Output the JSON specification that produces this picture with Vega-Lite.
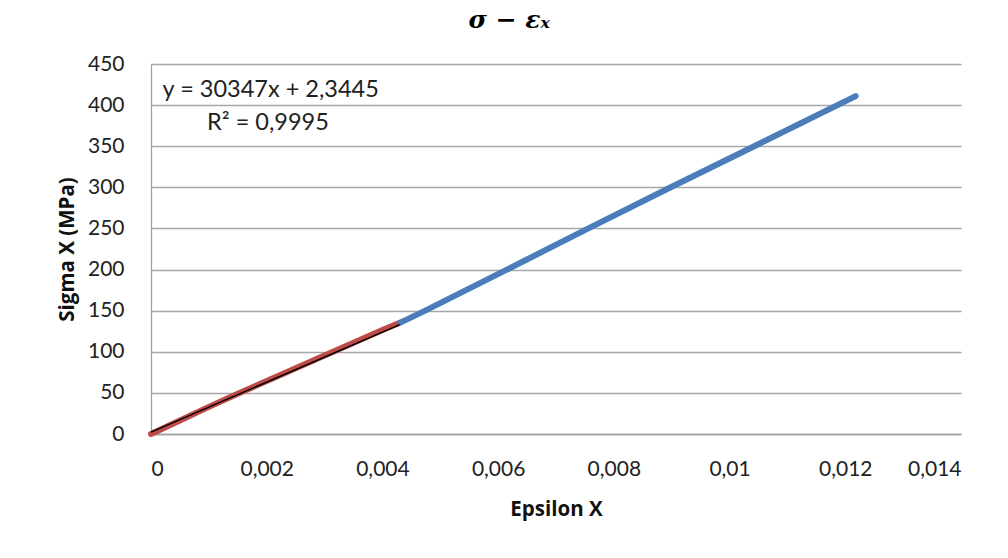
{
  "$schema": "https://vega.github.io/schema/vega-lite/v6.json",
  "width": 810,
  "height": 370,
  "autosize": "none",
  "padding": {"left": 151, "top": 64, "right": 47, "bottom": 124},
  "background": "white",
  "title": {
    "text": "σ − εₓ",
    "font": "DejaVu Serif",
    "fontStyle": "italic",
    "fontWeight": "bold",
    "fontSize": 25,
    "color": "#000000",
    "anchor": "middle",
    "frame": "bounds",
    "offset": 20
  },
  "config": {
    "view": {"stroke": null},
    "axis": {
      "labelFont": "Lato",
      "labelFontSize": 21,
      "labelColor": "#222222",
      "titleFont": "Open Sans",
      "titleFontSize": 20.5,
      "titleFontWeight": "bold",
      "titleColor": "#111111",
      "ticks": false,
      "gridColor": "#a6a6a6",
      "gridWidth": 1.3,
      "domainColor": "#a0a0a0",
      "domainWidth": 1.3
    }
  },
  "datasets": {
    "points": [
      {"eps": 0, "sigma": 0, "series": "elastic"},
      {"eps": 0.0005, "sigma": 16.5, "series": "elastic"},
      {"eps": 0.001, "sigma": 33, "series": "elastic"},
      {"eps": 0.0015, "sigma": 49, "series": "elastic"},
      {"eps": 0.002, "sigma": 64.5, "series": "elastic"},
      {"eps": 0.0025, "sigma": 80, "series": "elastic"},
      {"eps": 0.003, "sigma": 95.5, "series": "elastic"},
      {"eps": 0.0035, "sigma": 111, "series": "elastic"},
      {"eps": 0.004, "sigma": 126.5, "series": "elastic"},
      {"eps": 0.00431, "sigma": 135.5, "series": "elastic"},
      {"eps": 0.00431, "sigma": 135.5, "series": "full"},
      {"eps": 0.00474, "sigma": 150, "series": "full"},
      {"eps": 0.006125, "sigma": 199, "series": "full"},
      {"eps": 0.0075, "sigma": 248, "series": "full"},
      {"eps": 0.008922, "sigma": 298, "series": "full"},
      {"eps": 0.0104, "sigma": 349, "series": "full"},
      {"eps": 0.01218, "sigma": 411, "series": "full"}
    ],
    "trend": [
      {"eps": 0, "sigma": 2.3},
      {"eps": 0.0043, "sigma": 133}
    ],
    "notes": [
      {"eps": 0.0002, "sigma": 418, "label": "y = 30347x + 2,3445"},
      {"eps": 0.00097, "sigma": 378, "label": "R² = 0,9995"}
    ]
  },
  "layer": [
    {
      "data": {"name": "points"},
      "mark": {"type": "line", "strokeWidth": 6, "strokeCap": "round", "strokeJoin": "round", "clip": false},
      "encoding": {
        "x": {
          "field": "eps", "type": "quantitative",
          "scale": {"domain": [0, 0.014], "nice": false, "zero": true},
          "axis": {
            "title": "Epsilon X",
            "values": [0, 0.002, 0.004, 0.006, 0.008, 0.01, 0.012, 0.014],
            "grid": false,
            "domain": true,
            "labelPadding": 24,
            "titlePadding": 20,
            "labelExpr": "replace(format(datum.value, '~g'), '.', ',')"
          }
        },
        "y": {
          "field": "sigma", "type": "quantitative",
          "scale": {"domain": [0, 450], "nice": false},
          "axis": {
            "title": "Sigma X (MPa)",
            "values": [0, 50, 100, 150, 200, 250, 300, 350, 400, 450],
            "grid": true,
            "labelPadding": 27,
            "titlePadding": 10
          }
        },
        "color": {
          "field": "series", "type": "nominal",
          "scale": {"domain": ["full", "elastic"], "range": ["#4a7ebb", "#be4b48"]},
          "legend": null
        },
        "order": {"field": "eps", "type": "quantitative"}
      }
    },
    {
      "data": {"name": "trend"},
      "mark": {"type": "line", "color": "#000000", "strokeWidth": 1.5},
      "encoding": {
        "x": {"field": "eps", "type": "quantitative"},
        "y": {"field": "sigma", "type": "quantitative"}
      }
    },
    {
      "data": {"name": "notes"},
      "mark": {"type": "text", "align": "left", "baseline": "middle", "font": "Lato", "fontSize": 23.5, "color": "#222222"},
      "encoding": {
        "x": {"field": "eps", "type": "quantitative"},
        "y": {"field": "sigma", "type": "quantitative"},
        "text": {"field": "label"}
      }
    }
  ]
}
